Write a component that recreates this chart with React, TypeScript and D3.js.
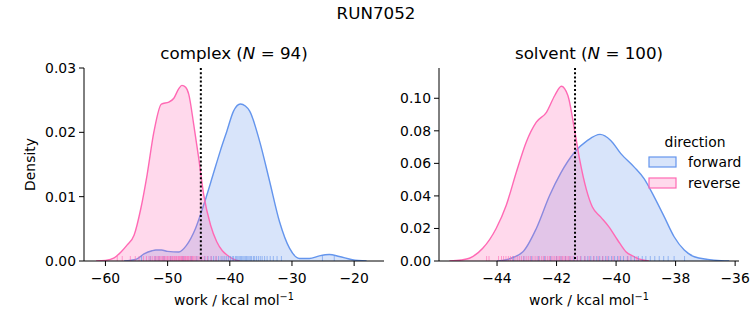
import React from "react";
import * as d3 from "d3";

// ---------- data ----------
const figureTitle = "RUN7052";
const panelNames = ["complex", "solvent"];
const panelCounts = [94, 100];
const directions = ["forward", "reverse"];
const directionColors = ["#6495ED", "#FF69B4"];

// complex panel KDE curves
const complexForwardX = [-57, -55, -53.8, -52.5, -51.9, -51.0, -50.0, -48.2, -47.0, -45.5, -44.2, -42.7, -41.5, -40.5, -39.4, -38.3, -37.5, -36.8, -35.2, -33.6, -32.0, -30.4, -28.8, -27.2, -25.6, -24.0, -22.4, -20.3, -18.0];
const complexForwardY = [0, 0.0003, 0.0011, 0.0016, 0.0017, 0.0017, 0.0015, 0.0014, 0.0024, 0.0051, 0.0087, 0.0134, 0.0172, 0.0201, 0.0233, 0.0244, 0.0241, 0.0233, 0.0186, 0.0124, 0.0061, 0.002, 0.0004, 0.0004, 0.0008, 0.001, 0.0007, 0.0002, 0];
const complexReverseX = [-61.5, -60, -58.6, -57.5, -56.5, -55.4, -54.3, -53.3, -52.2, -51.0, -49.8, -49.0, -48.2, -47.7, -47.1, -46.6, -45.8, -45.0, -44.2, -43.1, -42.1, -41.2, -40.4, -39.4, -38.4];
const complexReverseY = [0, 0.0001, 0.0005, 0.0014, 0.0025, 0.004, 0.0082, 0.0134, 0.0201, 0.0244, 0.0247, 0.0253, 0.0268, 0.0273, 0.027, 0.0259, 0.0212, 0.016, 0.0103, 0.0056, 0.003, 0.0016, 0.0009, 0.0003, 0];

// solvent panel KDE curves
const solventForwardX = [-44.0, -43.69, -43.13, -42.68, -42.23, -41.86, -41.41, -40.96, -40.54, -40.18, -39.84, -39.39, -39.06, -38.72, -38.38, -38.05, -37.71, -37.37, -36.92, -36.47, -36.2];
const solventForwardY = [0, 0.0008, 0.0057, 0.02, 0.0404, 0.054, 0.0665, 0.0741, 0.0778, 0.0741, 0.066, 0.0577, 0.0506, 0.0394, 0.0271, 0.0149, 0.0067, 0.0026, 0.001, 0.0002, 0];
const solventReverseX = [-45.6, -45.2, -44.93, -44.48, -44.03, -43.69, -43.35, -43.02, -42.68, -42.34, -42.06, -41.84, -41.62, -41.39, -41.22, -41.0, -40.8, -40.52, -40.24, -39.95, -39.67, -39.39, -39.1, -38.9];
const solventReverseY = [0, 0.0006, 0.0017, 0.0078, 0.02, 0.0343, 0.0547, 0.073, 0.0853, 0.0914, 0.1017, 0.1074, 0.1017, 0.08, 0.062, 0.044, 0.0333, 0.0271, 0.021, 0.0129, 0.0057, 0.0026, 0.0006, 0];

// rug samples (work values)
const complexForwardRug = [-54.2, -52.8, -52.0, -51.4, -50.6, -49.5, -47.5, -46.2, -45.3, -44.6, -44.0, -43.5, -43.0, -42.6, -42.2, -41.8, -41.4, -41.1, -40.8, -40.5, -40.2, -39.9, -39.6, -39.4, -39.1, -38.9, -38.7, -38.5, -38.3, -38.1, -37.9, -37.7, -37.5, -37.3, -37.1, -36.9, -36.7, -36.5, -36.2, -36.0, -35.7, -35.4, -35.1, -34.8, -34.4, -34.0, -33.5, -33.0, -32.4, -31.7, -25.1, -23.2];
const complexReverseRug = [-58.1, -57.3, -56.0, -55.2, -54.6, -53.9, -53.4, -53.0, -52.7, -52.4, -52.1, -51.9, -51.7, -51.5, -51.3, -51.1, -50.9, -50.8, -50.6, -50.5, -50.3, -50.1, -50.0, -49.8, -49.6, -49.5, -49.3, -49.2, -49.0, -48.9, -48.7, -48.6, -48.5, -48.3, -48.2, -48.1, -47.9, -47.8, -47.7, -47.6, -47.5, -47.3, -47.2, -47.1, -47.0, -46.8, -46.7, -46.6, -46.4, -46.3, -46.1, -46.0, -45.8, -45.6, -45.4, -45.1, -44.8, -44.5, -44.1, -43.6, -43.0, -42.2];
const solventForwardRug = [-43.45, -43.1, -42.85, -42.6, -42.4, -42.2, -42.0, -41.85, -41.7, -41.55, -41.42, -41.3, -41.18, -41.05, -40.95, -40.85, -40.75, -40.65, -40.55, -40.45, -40.35, -40.25, -40.15, -40.05, -39.95, -39.85, -39.75, -39.62, -39.5, -39.38, -39.25, -39.12, -39.0, -38.85, -38.7, -38.55, -38.4, -38.25, -38.05, -37.7];
const solventReverseRug = [-44.35, -44.27, -43.95, -43.85, -43.78, -43.7, -43.62, -43.55, -43.48, -43.4, -43.32, -43.25, -43.18, -43.1, -43.02, -42.95, -42.88, -42.8, -42.72, -42.65, -42.58, -42.5, -42.44, -42.37, -42.3, -42.24, -42.18, -42.12, -42.06, -42.0, -41.95, -41.9, -41.85, -41.8, -41.75, -41.7, -41.65, -41.6, -41.55, -41.48, -41.4, -41.3, -41.2, -41.05, -40.9, -40.75, -40.6, -40.45, -40.3, -40.1, -39.9, -39.6, -39.3];

// dotted reference lines
const refLines = [-44.66, -41.38];

// axis ticks
const complexXTicks = [-60, -50, -40, -30, -20];
const complexYTicks = [0, 0.01, 0.02, 0.03];
const solventXTicks = [-44, -42, -40, -38, -36];
const solventYTicks = [0, 0.02, 0.04, 0.06, 0.08, 0.1];
const complexXDomain = [-63.45, -15.2];
const complexYDomain = [0, 0.03];
const solventXDomain = [-45.95, -35.87];
const solventYDomain = [0, 0.1186];

// ---------- layout ----------
const W = 753, H = 325;
const FONT = "DejaVu Sans, sans-serif";
const TICK_FS = 13.9;
const TITLE_FS = 16.7;
const panels = [
  {
    left: 84, right: 384, top: 68, bottom: 261,
    xDomain: complexXDomain, yDomain: complexYDomain,
    xTicks: complexXTicks, yTicks: complexYTicks, yFmt: ".2f",
    curves: [[complexForwardX, complexForwardY], [complexReverseX, complexReverseY]],
    rugs: [complexForwardRug, complexReverseRug],
    showYLabel: true,
  },
  {
    left: 439, right: 739, top: 68, bottom: 261,
    xDomain: solventXDomain, yDomain: solventYDomain,
    xTicks: solventXTicks, yTicks: solventYTicks, yFmt: ".2f",
    curves: [[solventForwardX, solventForwardY], [solventReverseX, solventReverseY]],
    rugs: [solventForwardRug, solventReverseRug],
    showYLabel: false,
  },
];

function Panel({ p, idx }: { p: any; idx: number }) {
  const x = d3.scaleLinear().domain(p.xDomain).range([p.left, p.right]);
  const y = d3.scaleLinear().domain(p.yDomain).range([p.bottom, p.top]);
  const area = d3.area<[number, number]>().x(d => x(d[0])).y0(y(0)).y1(d => y(d[1])).curve(d3.curveMonotoneX);
  const line = d3.line<[number, number]>().x(d => x(d[0])).y(d => y(d[1])).curve(d3.curveMonotoneX);
  const fmtX = (v: number) => (v < 0 ? "\u2212" + Math.abs(v) : String(v));
  const fmtY = d3.format(p.yFmt);
  const cx = (p.left + p.right) / 2;
  return (
    <g>
      <clipPath id={`clip${idx}`}>
        <rect x={p.left} y={p.top - 5} width={p.right - p.left} height={p.bottom - p.top + 5} />
      </clipPath>
      <g clipPath={`url(#clip${idx})`}>
        {p.curves.map((c: number[][], i: number) => {
          const pts: [number, number][] = c[0].map((v: number, k: number) => [v, c[1][k]]);
          return (
            <g key={i}>
              <path d={area(pts) || ""} fill={directionColors[i]} fillOpacity={0.25} stroke="none" />
              <path d={line(pts) || ""} fill="none" stroke={directionColors[i]} strokeWidth={1.4} />
            </g>
          );
        })}
        {p.rugs.map((r: number[], i: number) =>
          r.map((v: number, k: number) => (
            <line key={`${i}-${k}`} x1={x(v)} x2={x(v)} y1={p.bottom} y2={p.bottom - 5}
              stroke={directionColors[i]} strokeOpacity={0.6} strokeWidth={1} />
          ))
        )}
        <line x1={x(refLines[idx])} x2={x(refLines[idx])} y1={p.top} y2={p.bottom}
          stroke="#000" strokeWidth={2} strokeDasharray="2,2.2" />
      </g>
      {/* spines */}
      <line x1={p.left} x2={p.left} y1={p.top} y2={p.bottom} stroke="#000" strokeWidth={1} />
      <line x1={p.left} x2={p.right} y1={p.bottom} y2={p.bottom} stroke="#000" strokeWidth={1} />
      {/* x ticks */}
      {p.xTicks.map((t: number) => (
        <g key={t}>
          <line x1={x(t)} x2={x(t)} y1={p.bottom} y2={p.bottom + 5} stroke="#000" strokeWidth={1} />
          <text x={x(t)} y={p.bottom + 22} textAnchor="middle" fontSize={TICK_FS} fontFamily={FONT} fill="#000">{fmtX(t)}</text>
        </g>
      ))}
      {/* y ticks */}
      {p.yTicks.map((t: number) => (
        <g key={t}>
          <line x1={p.left - 5} x2={p.left} y1={y(t)} y2={y(t)} stroke="#000" strokeWidth={1} />
          <text x={p.left - 8} y={y(t) + 5} textAnchor="end" fontSize={TICK_FS} fontFamily={FONT} fill="#000">{fmtY(t)}</text>
        </g>
      ))}
      {/* x label */}
      <text x={cx} y={305} textAnchor="middle" fontSize={TICK_FS} fontFamily={FONT} fill="#000">
        work / kcal mol<tspan dy={-5.5} fontSize={9.7}>{"\u22121"}</tspan>
      </text>
      {p.showYLabel && (
        <text transform={`translate(35,${(p.top + p.bottom) / 2}) rotate(-90)`} textAnchor="middle"
          fontSize={TICK_FS} fontFamily={FONT} fill="#000">Density</text>
      )}
      {/* title */}
      <text x={cx} y={59} textAnchor="middle" fontSize={TITLE_FS} fontFamily={FONT} fill="#000">
        {panelNames[idx]} (<tspan fontStyle="italic">N</tspan>{" = "}{panelCounts[idx]})
      </text>
    </g>
  );
}

export default function App() {
  return (
    <svg width={W} height={H} style={{ position: "absolute", left: 0, top: 0, background: "#fff" }}>
      <rect width={W} height={H} fill="#fff" />
      <text x={376} y={19} textAnchor="middle" fontSize={TITLE_FS} fontFamily={FONT} fill="#000">{figureTitle}</text>
      {panels.map((p, i) => <Panel key={i} p={p} idx={i} />)}
      {/* legend */}
      <g fontFamily={FONT} fontSize={TICK_FS} fill="#000">
        <text x={695} y={146.5} textAnchor="middle">direction</text>
        {directions.map((d, i) => (
          <g key={d}>
            <rect x={649} y={157 + i * 21} width={27} height={10} fill={directionColors[i]} fillOpacity={0.25}
              stroke={directionColors[i]} strokeWidth={1.2} />
            <text x={688} y={167 + i * 21}>{d}</text>
          </g>
        ))}
      </g>
    </svg>
  );
}
